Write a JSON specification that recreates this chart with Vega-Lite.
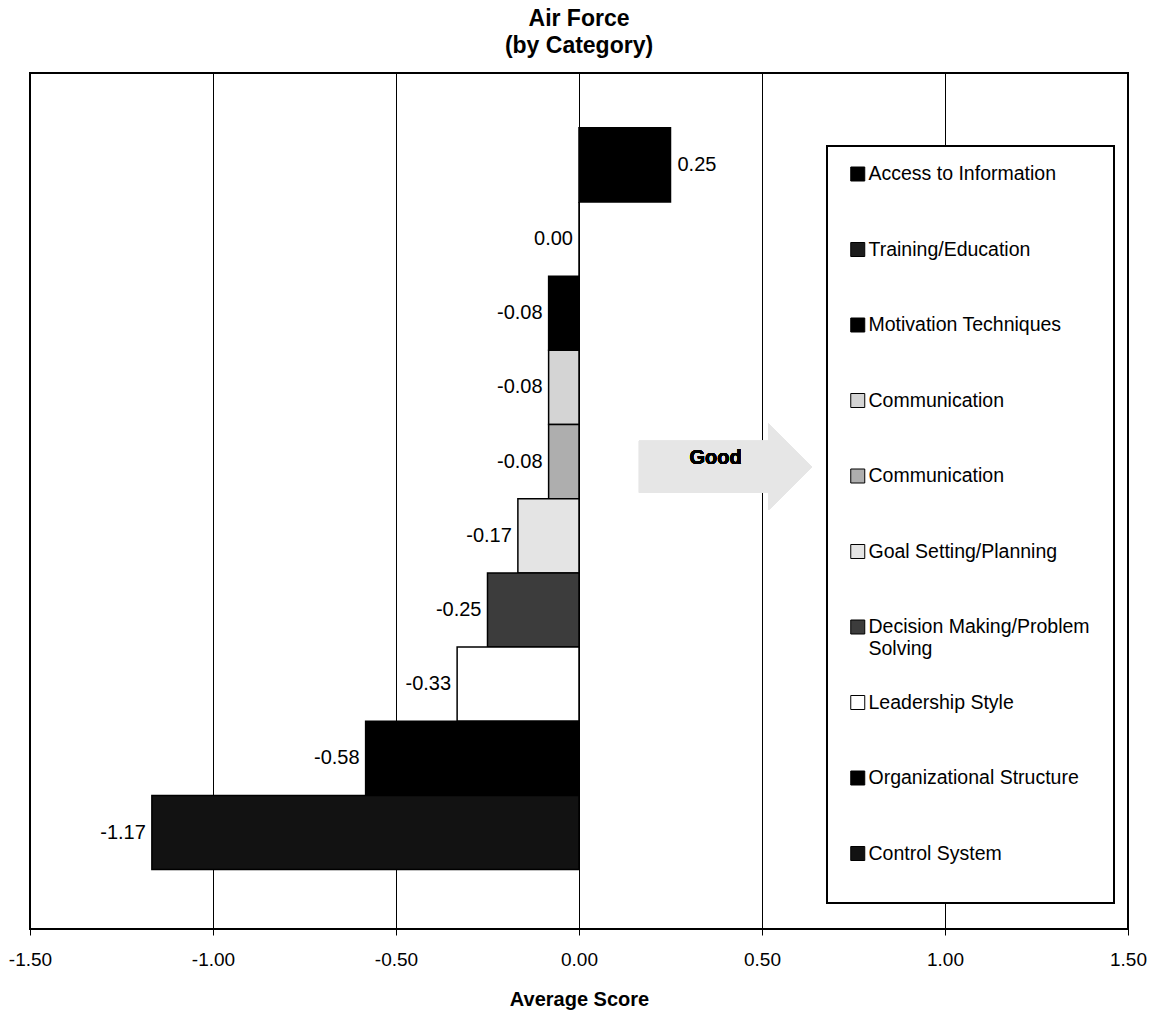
{
  "$schema": "https://vega.github.io/schema/vega-lite/v6.json",
  "width": 1098,
  "height": 856,
  "autosize": {"type": "none"},
  "padding": {"left": 30, "top": 73, "right": 27, "bottom": 83},
  "background": "white",
  "title": {
    "text": ["Air Force", "(by Category)"],
    "font": "Liberation Sans",
    "fontSize": 23,
    "fontWeight": "bold",
    "lineHeight": 27,
    "color": "black",
    "anchor": "middle",
    "offset": 15
  },
  "data": {
    "values": [
      {"category": "Access to Information", "score": 0.25},
      {"category": "Training/Education", "score": 0.0},
      {"category": "Motivation Techniques", "score": -0.083},
      {"category": "Communication", "score": -0.083},
      {"category": "Communication (2)", "score": -0.083},
      {"category": "Goal Setting/Planning", "score": -0.167},
      {"category": "Decision Making/Problem Solving", "score": -0.25},
      {"category": "Leadership Style", "score": -0.333},
      {"category": "Organizational Structure", "score": -0.583},
      {"category": "Control System", "score": -1.167}
    ]
  },
  "encoding": {
    "y": {
      "field": "category",
      "type": "nominal",
      "sort": null,
      "axis": null,
      "scale": {"paddingInner": 0, "paddingOuter": 0.77, "align": 0.48}
    }
  },
  "layer": [
    {
      "mark": {"type": "bar", "stroke": "black", "strokeWidth": 1.5},
      "encoding": {
        "x": {
          "field": "score",
          "type": "quantitative",
          "scale": {"domain": [-1.5, 1.5], "nice": false, "zero": false},
          "axis": {
            "title": "Average Score",
            "values": [-1.5, -1, -0.5, 0, 0.5, 1, 1.5],
            "format": ".2f",
            "labelFlush": false,
            "labelOverlap": false,
            "domain": false,
            "grid": true,
            "gridColor": "black",
            "gridOpacity": 1,
            "gridWidth": 1,
            "ticks": true,
            "tickColor": "black",
            "tickSize": 6,
            "tickWidth": 1,
            "labelPadding": 15,
            "labelFont": "Liberation Sans",
            "labelFontSize": 19,
            "labelColor": "black",
            "titleFont": "Liberation Sans",
            "titleFontSize": 20,
            "titleFontWeight": "bold",
            "titleColor": "black",
            "titlePadding": 20
          }
        },
        "color": {
          "field": "category",
          "type": "nominal",
          "sort": null,
          "scale": {
            "domain": [
              "Access to Information",
              "Training/Education",
              "Motivation Techniques",
              "Communication",
              "Communication (2)",
              "Goal Setting/Planning",
              "Decision Making/Problem Solving",
              "Leadership Style",
              "Organizational Structure",
              "Control System"
            ],
            "range": ["#000000", "#1c1c1c", "#000000", "#d4d4d4", "#aeaeae", "#e4e4e4", "#3c3c3c", "#ffffff", "#000000", "#121212"]
          },
          "legend": {
            "title": null,
            "orient": "none",
            "legendX": 797,
            "legendY": 73,
            "padding": -3,
            "strokeColor": "black",
            "fillColor": "white",
            "symbolType": "square",
            "symbolSize": 196,
            "symbolStrokeColor": "black",
            "symbolStrokeWidth": 1,
            "symbolOpacity": 1,
            "symbolOffset": 24,
            "labelOffset": 1,
            "labelFont": "Liberation Sans",
            "labelFontSize": 19.5,
            "labelColor": "black",
            "labelLimit": 400,
            "labelBaseline": "middle",
            "clipHeight": 62,
            "rowPadding": 13.5,
            "labelExpr": "datum.value == 'Communication (2)' ? 'Communication' : datum.value == 'Decision Making/Problem Solving' ? ['Decision Making/Problem\u00a0\u00a0\u00a0\u00a0\u00a0\u200b', 'Solving'] : datum.value == 'Control System' ? ['Control System', '', ''] : datum.label"
          }
        }
      }
    },
    {
      "transform": [{"filter": "datum.score > 0"}],
      "mark": {"type": "text", "align": "left", "baseline": "middle", "dx": 7, "font": "Liberation Sans", "fontSize": 20, "color": "black"},
      "encoding": {
        "x": {"field": "score", "type": "quantitative"},
        "text": {"field": "score", "type": "quantitative", "format": ".2f"}
      }
    },
    {
      "transform": [{"filter": "datum.score <= 0"}],
      "mark": {"type": "text", "align": "right", "baseline": "middle", "dx": -6, "font": "Liberation Sans", "fontSize": 20, "color": "black"},
      "encoding": {
        "x": {"field": "score", "type": "quantitative"},
        "text": {"field": "score", "type": "quantitative", "format": ".2f"}
      }
    },
    {
      "mark": {
        "type": "point",
        "shape": "M -1 -0.3 L 0.5 -0.3 L 0.5 -0.5 L 1 0 L 0.5 0.5 L 0.5 0.3 L -1 0.3 Z",
        "filled": true,
        "fill": "#e6e6e6",
        "opacity": 1,
        "strokeWidth": 0,
        "size": 29929,
        "yOffset": 5
      },
      "encoding": {
        "x": {"datum": 0.4, "type": "quantitative"},
        "y": {"datum": "Communication (2)", "type": "nominal"}
      }
    },
    {
      "mark": {"type": "text", "text": "Good", "align": "center", "baseline": "middle", "font": "Liberation Sans", "fontSize": 20, "fontWeight": "bold", "fill": "black", "yOffset": -4},
      "encoding": {
        "x": {"datum": 0.373, "type": "quantitative"},
        "y": {"datum": "Communication (2)", "type": "nominal"}
      }
    }
  ],
  "config": {
    "locale": {
      "number": {"decimal": ".", "thousands": ",", "grouping": [3], "currency": ["$", ""], "minus": "-"}
    },
    "view": {"stroke": "black", "strokeWidth": 2},
    "legend": {"strokeWidth": 2}
  }
}
